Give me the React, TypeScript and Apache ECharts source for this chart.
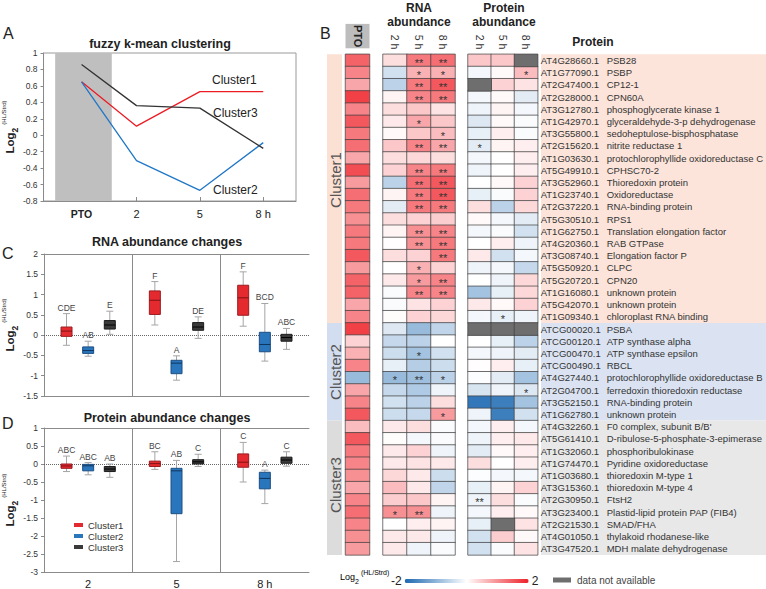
import React, { useEffect, useRef } from 'react';
import * as echarts from 'echarts';

const FONT = '"Liberation Sans", Arial, Helvetica, sans-serif';

// ---------------- Panel A : fuzzy k-mean clustering ----------------
const timeLabels = ['PTO', '2', '5', '8 h'];
const timeX = [-0.6, 2, 5, 8];
const trendCluster1 = [0.65, 0.11, 0.53, 0.53];
const trendCluster2 = [0.65, -0.31, -0.67, -0.09];
const trendCluster3 = [0.86, 0.36, 0.33, -0.16];

// ---------------- Panel C : RNA abundance changes (min, Q1, median, Q3, max) ----------------
const groupLabels = ['2', '5', '8 h'];
const rnaBoxCluster1 = [[-0.25, -0.03, 0.1, 0.2, 0.53], [0.25, 0.51, 0.86, 1.09, 1.32], [0.22, 0.49, 0.92, 1.23, 1.56]];
const rnaBoxCluster2 = [[-0.52, -0.45, -0.38, -0.29, -0.15], [-1.11, -0.95, -0.69, -0.62, -0.51], [-0.64, -0.41, -0.23, 0.07, 0.78]];
const rnaBoxCluster3 = [[0.02, 0.15, 0.25, 0.36, 0.59], [-0.08, 0.12, 0.2, 0.31, 0.45], [-0.35, -0.15, -0.06, 0.02, 0.165]];
const rnaLettersCluster1 = ['CDE', 'F', 'F'];
const rnaLettersCluster2 = ['AB', 'A', 'BCD'];
const rnaLettersCluster3 = ['E', 'DE', 'ABC'];

// ---------------- Panel D : Protein abundance changes ----------------
const protBoxCluster1 = [[-0.21, -0.12, -0.055, 0.0, 0.22], [-0.15, -0.07, 0.01, 0.08, 0.34], [-0.5, -0.09, 0.05, 0.28, 0.6]];
const protBoxCluster2 = [[-0.3, -0.19, -0.05, -0.01, 0.04], [-2.71, -1.38, -0.19, -0.12, 0.1], [-1.1, -0.69, -0.4, -0.23, -0.17]];
const protBoxCluster3 = [[-0.37, -0.21, -0.14, -0.07, 0.0], [-0.07, 0.0, 0.06, 0.12, 0.27], [-0.06, 0.02, 0.11, 0.19, 0.34]];
const protLettersCluster1 = ['ABC', 'BC', 'C'];
const protLettersCluster2 = ['ABC', 'AB', 'A'];
const protLettersCluster3 = ['AB', 'C', 'C'];

// ---------------- Panel B : heatmap ----------------
const clusterNames = ['Cluster1', 'Cluster2', 'Cluster3'];
const clusterCounts = [22, 8, 11];
const proteinIds = [
  'AT4G28660.1', 'AT1G77090.1', 'AT2G47400.1', 'AT2G28000.1', 'AT3G12780.1', 'AT1G42970.1', 'AT3G55800.1',
  'AT2G15620.1', 'AT1G03630.1', 'AT5G49910.1', 'AT3G52960.1', 'AT1G23740.1', 'AT2G37220.1', 'AT5G30510.1',
  'AT1G62750.1', 'AT4G20360.1', 'AT3G08740.1', 'AT5G50920.1', 'AT5G20720.1', 'AT1G16080.1', 'AT5G42070.1',
  'AT1G09340.1', 'ATCG00020.1', 'ATCG00120.1', 'ATCG00470.1', 'ATCG00490.1', 'AT4G27440.1', 'AT2G04700.1',
  'AT3G52150.1', 'AT1G62780.1', 'AT4G32260.1', 'AT5G61410.1', 'AT1G32060.1', 'AT1G74470.1', 'AT1G03680.1',
  'AT3G15360.1', 'AT2G30950.1', 'AT3G23400.1', 'AT2G21530.1', 'AT4G01050.1', 'AT3G47520.1',
];
const proteinNames = [
  'PSB28', 'PSBP', 'CP12-1', 'CPN60A', 'phosphoglycerate kinase 1', 'glyceraldehyde-3-p dehydrogenase',
  'sedoheptulose-bisphosphatase', 'nitrite reductase 1', 'protochlorophyllide oxidoreductase C', 'CPHSC70-2',
  'Thioredoxin protein', 'Oxidoreductase', 'RNA-binding protein', 'RPS1', 'Translation elongation factor',
  'RAB GTPase', 'Elongation factor P', 'CLPC', 'CPN20', 'unknown protein', 'unknown protein',
  'chloroplast RNA binding', 'PSBA', 'ATP synthase alpha', 'ATP synthase epsilon', 'RBCL',
  'protochlorophyllide oxidoreductase B', 'ferredoxin thioredoxin reductase', 'RNA-binding protein',
  'unknown protein', "F0 complex, subunit B/B'", 'D-ribulose-5-phosphate-3-epimerase', 'phosphoribulokinase',
  'Pyridine oxidoreductase', 'thioredoxin M-type 1', 'thioredoxin M-type 4', 'FtsH2',
  'Plastid-lipid protein PAP (FIB4)', 'SMAD/FHA', 'thylakoid rhodanese-like', 'MDH malate dehydrogenase',
];
const ptoValues = [1.4, 1.1, 0.8, 1.7, 1.1, 1.5, 1.2, 1.3, 0.8, 1.6, 0.9, 1.3, 1.2, 1.0, 1.2, 1.2, 1.5, 0.9, 1.4, 1.4, 0.8, 1.1,
  1.7, 0.4, 0.7, 1.1, -0.9, 0.8, 1.1, 1.5,
  0.6, 1.5, 1.2, 1.1, 1.0, 0.8, 1.1, 1.3, 1.1, 1.0, 0.9];
const rna2h = [0.3, -0.4, -0.6, 0.1, 0.3, 0.2, 0.05, 0.5, 0.3, 0.4, -0.6, 0.1, -0.25, 0.3, 0.1, 0.02, 0.3, 0, 0.2, -0.05, -0.05, 0.03,
  -0.3, -0.5, -0.45, -0.2, -0.9, -0.5, -0.4, -0.45,
  0.2, 0.03, 0.2, 0.2, 0.35, 0.6, 0.45, 1.0, 0, 0.2, 0.2];
const rna5h = [1.2, 0.7, 1.2, 1.1, 0.5, 0.8, 0.5, 1.1, 0.35, 1.1, 1.3, 1.2, 1.2, 0.4, 1.0, 1.0, 0.4, 0.7, 0.9, 1.1, 0.25, 0.4,
  -0.9, -0.6, -0.8, -0.65, -0.85, -0.7, -0.6, -0.5,
  0.3, -0.1, 0.4, 0.25, 0.2, 0.2, 0.5, 1.0, 0.15, 0.2, -0.15];
const rna8h = [1.3, 0.7, 1.5, 1.2, 0.25, 0.5, 0.6, 0.8, 0.3, 1.2, 1.5, 1.5, 1.2, 0.45, 1.1, 1.2, 1.2, 0.4, 1.1, 1.1, 0.4, 0.35,
  -0.55, 0, -0.4, -0.45, -0.6, -0.15, 0.3, 0.9,
  -0.05, -0.05, -0.15, 0.2, -0.45, -0.55, 0.1, -0.15, 0.1, -0.15, -0.05];
const prot2h = [0.5, -0.1, null, -0.1, -0.15, -0.3, -0.2, -0.25, -0.1, -0.15, 0, -0.2, 0.3, 0.05, -0.1, 0, 0.2, -0.15, 0, -0.8, 0.2, -0.1,
  null, 0, -0.1, 0.02, -0.03, -0.35, -1.8, -0.15,
  -0.1, -0.15, -0.25, 0.3, -0.03, -0.2, -0.15, -0.1, -0.2, -0.4, -0.4];
const prot5h = [0.5, 0.05, 0.4, 0.05, 0.1, 0.05, 0.15, 0.1, 0, 0, 0.05, -0.05, -0.6, -0.1, -0.05, 0.15, -0.4, -0.1, -0.15, -0.2, 0.05, -0.2,
  null, -0.2, -0.15, 0.15, -0.25, -0.15, -1.7, -1.7,
  0.15, 0.15, 0.05, 0, -0.1, 0.1, 0.3, 0.15, null, 0.45, -0.05];
const prot8h = [null, 0.6, 0.25, -0.25, -0.1, -0.05, -0.05, 0.15, 0.15, 0.15, 0.4, 0.4, 0.35, -0.25, -0.4, -0.15, -0.1, -0.5, 0.35, 0.35, 0.4, -0.15,
  null, -0.6, -0.25, -0.2, -0.8, -0.3, -0.8, -0.4,
  -0.1, 0.2, 0.15, 0.15, -0.1, 0.4, -0.05, 0.05, 0.25, 0.05, 0.25];
const rnaSig2h = ['', '', '', '', '', '', '', '', '', '', '', '', '', '', '', '', '', '', '', '', '', '',
  '', '', '', '', '*', '', '', '',
  '', '', '', '', '', '', '', '*', '', '', ''];
const rnaSig5h = ['**', '*', '**', '**', '', '*', '', '**', '', '**', '**', '**', '**', '', '**', '**', '', '*', '*', '**', '', '',
  '', '', '*', '', '**', '', '', '',
  '', '', '', '', '', '', '', '**', '', '', ''];
const rnaSig8h = ['**', '*', '**', '**', '', '', '*', '**', '', '**', '**', '**', '**', '', '**', '**', '**', '', '**', '**', '', '',
  '', '', '', '', '*', '', '', '*',
  '', '', '', '', '', '', '', '', '', '', ''];
const protSig2h = ['', '', '', '', '', '', '', '*', '', '', '', '', '', '', '', '', '', '', '', '', '', '',
  '', '', '', '', '', '', '', '',
  '', '', '', '', '', '', '**', '', '', '', ''];
const protSig5h = ['', '', '', '', '', '', '', '', '', '', '', '', '', '', '', '', '', '', '', '', '', '*',
  '', '', '', '', '', '', '', '',
  '', '', '', '', '', '', '', '', '', '', ''];
const protSig8h = ['', '*', '', '', '', '', '', '', '', '', '', '', '', '', '', '', '', '', '', '', '', '',
  '', '', '', '', '', '*', '', '',
  '', '', '', '', '', '', '', '', '', '', ''];
const timeColumns = ['2 h', '5 h', '8 h'];
const colorScale = { min: -2, max: 2 };

// ---------------- styles ----------------
const lineColors = ['#ed1c24', '#1f77c7', '#333333'];
const boxColors = [
  { fill: '#e52a2f', stroke: '#9c1b1f', median: '#7e1215' },
  { fill: '#2a76bd', stroke: '#1b4e82', median: '#0f355c' },
  { fill: '#3a3a3a', stroke: '#1c1c1c', median: '#000000' },
];
const boxOffsets = [-0.245, 0, 0.245];
const bandColors = ['#fce4da', '#dbe3f2', '#e8e8e8'];
const stripColors = ['#fbe0d4', '#d3ddf0', '#dcdcdc'];
const heatTop = 54.3;
const rowH = 12.21;

const axisLabelStyle = { fontSize: 8.5, color: '#333', fontFamily: FONT };
const greyAxisLine = { show: true, onZero: false, lineStyle: { color: '#8a8a8a', width: 1 } };
const yNameRich = {
  a: { fontSize: 11.5, fontWeight: 'bold' as const, color: '#222', fontFamily: FONT, lineHeight: 18, verticalAlign: 'middle' as const },
  s: { fontSize: 8.5, fontWeight: 'bold' as const, color: '#222', fontFamily: FONT, lineHeight: 9, verticalAlign: 'bottom' as const },
  p: { fontSize: 6, color: '#222', fontFamily: FONT, lineHeight: 8, verticalAlign: 'top' as const, padding: [0, 0, 0, 3] },
};
const yName = '{a|Log}{s|2}{p|(HL/Strd)}';

function makeBoxSeries(name: string, boxes: number[][], letters: string[], ci: number, xAxisIndex: number, yAxisIndex: number, withZero: boolean) {
  const col = boxColors[ci];
  const off = boxOffsets[ci];
  const s: any = {
    type: 'custom',
    name,
    xAxisIndex,
    yAxisIndex,
    itemStyle: { color: col.fill },
    encode: { x: 0, y: [1, 2, 3, 4, 5] },
    data: boxes.map((b, i) => [i, ...b]),
    z: 3,
    renderItem: (params: any, api: any) => {
      const gi = api.value(0);
      const x = gi + 0.5 + off;
      const pMin = api.coord([x, api.value(1)]);
      const pQ1 = api.coord([x, api.value(2)]);
      const pMed = api.coord([x, api.value(3)]);
      const pQ3 = api.coord([x, api.value(4)]);
      const pMax = api.coord([x, api.value(5)]);
      const cx = pMin[0];
      const hw = 5.5;
      const cw = 3.5;
      const ws = { stroke: '#a5a5a5', lineWidth: 1 };
      return {
        type: 'group',
        children: [
          { type: 'line', shape: { x1: cx, y1: pMax[1], x2: cx, y2: pQ3[1] }, style: ws },
          { type: 'line', shape: { x1: cx, y1: pQ1[1], x2: cx, y2: pMin[1] }, style: ws },
          { type: 'line', shape: { x1: cx - cw, y1: pMax[1], x2: cx + cw, y2: pMax[1] }, style: ws },
          { type: 'line', shape: { x1: cx - cw, y1: pMin[1], x2: cx + cw, y2: pMin[1] }, style: ws },
          { type: 'rect', shape: { x: cx - hw, y: pQ3[1], width: hw * 2, height: Math.max(1, pQ1[1] - pQ3[1]) }, style: { fill: col.fill, stroke: col.stroke, lineWidth: 1 } },
          { type: 'line', shape: { x1: cx - hw, y1: pMed[1], x2: cx + hw, y2: pMed[1] }, style: { stroke: col.median, lineWidth: 1 } },
          {
            type: 'text', x: cx, y: pMax[1] - 1.5,
            style: { text: letters[gi], fontSize: 8.5, fontFamily: FONT, fill: '#444', align: 'center', textAlign: 'center', verticalAlign: 'bottom', textVerticalAlign: 'bottom' },
          },
        ],
      };
    },
  };
  if (withZero) {
    s.markLine = {
      silent: true, z: 1, symbol: ['none', 'none'], label: { show: false },
      lineStyle: { type: 'dotted', color: '#666', width: 1 },
      data: [{ yAxis: 0 }],
    };
  }
  return s;
}

function txt(text: string, x: number, y: number, size: number, opts: any = {}) {
  return {
    type: 'text', x, y, z: 10, rotation: opts.rotation || 0,
    style: {
      text, fontSize: size, fontFamily: FONT, fontWeight: opts.bold ? 'bold' : 'normal', fill: opts.color || '#222',
      align: opts.align || 'left', textAlign: opts.align || 'left', verticalAlign: 'middle', textVerticalAlign: 'middle',
      rich: opts.rich,
    },
  };
}

function buildOption() {
  const sigCols = [[rnaSig2h, rnaSig5h, rnaSig8h], [protSig2h, protSig5h, protSig8h]];
  const rnaCols = [rna2h, rna5h, rna8h];
  const protCols = [prot2h, prot5h, prot8h];
  const rnaData: any[] = [];
  const protData: any[] = [];
  const naData: any[] = [];
  rnaCols.forEach((c, j) => c.forEach((v, i) => rnaData.push([j, i, v])));
  protCols.forEach((c, j) => c.forEach((v, i) => {
    if (v === null) naData.push([j, i, 0]);
    else protData.push([j, i, v]);
  }));

  const heatItem = { borderColor: '#3d3d3d', borderWidth: 0.7 };
  const heatLabel = (k: number) => ({
    show: true, fontSize: 11, color: '#333', fontFamily: FONT, offset: [0, 2.5],
    formatter: (p: any) => sigCols[k][p.value[0]][p.value[1]] || '',
  });

  // background bands and strip labels
  const bandEls: any[] = [];
  let start = 0;
  const stripLabelY = [180, 372, 485];
  clusterCounts.forEach((n, c) => {
    const y = heatTop + start * rowH;
    const h = n * rowH;
    bandEls.push({ type: 'rect', z: -5, shape: { x: 327, y, width: 15, height: h }, style: { fill: stripColors[c] } });
    bandEls.push({ type: 'rect', z: -5, shape: { x: 541, y, width: 225, height: h }, style: { fill: bandColors[c] } });
    bandEls.push(txt(clusterNames[c], 335, stripLabelY[c], 15, { rotation: Math.PI / 2, align: 'center', color: '#555' }));
    start += n;
  });

  const heatY = (gi: number, show = false) => ({
    gridIndex: gi, type: 'category', data: proteinIds, inverse: true, show,
  });

  return {
    animation: false,
    backgroundColor: '#ffffff',
    textStyle: { fontFamily: FONT },
    grid: [
      { left: 41, top: 53, width: 255, height: 148, show: true, borderColor: '#9a9a9a', borderWidth: 1, backgroundColor: 'transparent' },
      { left: 44, top: 254, width: 265, height: 142 },
      { left: 44, top: 428, width: 265, height: 145 },
      { left: 345.5, top: heatTop, width: 24, height: rowH * proteinIds.length },
      { left: 383, top: heatTop, width: 72, height: rowH * proteinIds.length },
      { left: 468, top: heatTop, width: 72, height: rowH * proteinIds.length },
    ],
    xAxis: [
      {
        gridIndex: 0, type: 'value', min: -2.4, max: 9.55,
        axisLine: greyAxisLine, splitLine: { show: false },
        axisTick: { show: true, customValues: timeX, inside: true, length: 4, lineStyle: { color: '#8a8a8a' } },
        axisLabel: {
          customValues: timeX, margin: 7, fontSize: 11, color: '#222', fontFamily: FONT,
          formatter: (v: number) => {
            const i = timeX.findIndex((t) => Math.abs(t - v) < 1e-6);
            if (i < 0) return '';
            return i === 0 ? '{b|' + timeLabels[i] + '}' : timeLabels[i];
          },
          rich: { b: { fontWeight: 'bold', fontSize: 10.5, color: '#222', fontFamily: FONT } },
        },
      },
      {
        gridIndex: 1, type: 'value', min: 0, max: 3, interval: 1,
        axisLine: greyAxisLine, axisTick: { show: false }, axisLabel: { show: false },
        splitLine: { show: true, showMinLine: false, showMaxLine: false, lineStyle: { color: '#8a8a8a', width: 1 } },
      },
      { gridIndex: 1, type: 'value', position: 'top', min: 0, max: 3, axisLine: greyAxisLine, axisTick: { show: false }, axisLabel: { show: false }, splitLine: { show: false } },
      {
        gridIndex: 2, type: 'value', min: 0, max: 3, interval: 1,
        axisLine: greyAxisLine, axisTick: { show: false },
        axisLabel: {
          customValues: [0.5, 1.5, 2.5], margin: 6, fontSize: 11, color: '#222', fontFamily: FONT,
          formatter: (v: number) => groupLabels[Math.round(v - 0.5)] ?? '',
        },
        splitLine: { show: true, showMinLine: false, showMaxLine: false, lineStyle: { color: '#8a8a8a', width: 1 } },
      },
      { gridIndex: 2, type: 'value', position: 'top', min: 0, max: 3, axisLine: greyAxisLine, axisTick: { show: false }, axisLabel: { show: false }, splitLine: { show: false } },
      {
        gridIndex: 3, type: 'category', data: ['PTO'], position: 'top',
        axisLine: { show: false }, axisTick: { show: false },
        axisLabel: { rotate: 90, fontWeight: 'bold', fontSize: 11, color: '#222', fontFamily: FONT, backgroundColor: '#bdbdbd', padding: [6, 1, 6, 1], lineHeight: 12, margin: 6 },
      },
      {
        gridIndex: 4, type: 'category', data: timeColumns, position: 'top',
        axisLine: { show: false }, axisTick: { show: false },
        axisLabel: { rotate: 90, fontSize: 10.5, color: '#333', fontFamily: FONT, margin: 5 },
      },
      {
        gridIndex: 5, type: 'category', data: timeColumns, position: 'top',
        axisLine: { show: false }, axisTick: { show: false },
        axisLabel: { rotate: 90, fontSize: 10.5, color: '#333', fontFamily: FONT, margin: 5 },
      },
    ],
    yAxis: [
      {
        gridIndex: 0, type: 'value', min: -0.8, max: 1, interval: 0.2,
        axisLine: greyAxisLine, splitLine: { show: false },
        axisTick: { show: true, length: 3, lineStyle: { color: '#8a8a8a' } },
        axisLabel: { ...axisLabelStyle, margin: 6 },
        name: yName, nameLocation: 'middle', nameRotate: 90, nameGap: 21, nameTextStyle: { rich: yNameRich },
      },
      {
        gridIndex: 1, type: 'value', min: -1.5, max: 2, interval: 0.5,
        axisLine: greyAxisLine, splitLine: { show: false },
        axisTick: { show: true, length: 3, lineStyle: { color: '#8a8a8a' } },
        axisLabel: { ...axisLabelStyle, margin: 6 },
        name: yName, nameLocation: 'middle', nameRotate: 90, nameGap: 23, nameTextStyle: { rich: yNameRich },
      },
      {
        gridIndex: 2, type: 'value', min: -3, max: 1, interval: 0.5,
        axisLine: greyAxisLine, splitLine: { show: false },
        axisTick: { show: true, length: 3, lineStyle: { color: '#8a8a8a' } },
        axisLabel: { ...axisLabelStyle, margin: 6 },
        name: yName, nameLocation: 'middle', nameRotate: 90, nameGap: 23, nameTextStyle: { rich: yNameRich },
      },
      heatY(3),
      heatY(4),
      {
        gridIndex: 5, type: 'category', data: proteinIds, inverse: true, position: 'right',
        axisLine: { show: false }, axisTick: { show: false },
        axisLabel: {
          interval: 0, margin: 3, fontSize: 9.5, color: '#333', fontFamily: FONT,
          formatter: (v: string, idx: number) => '{id|' + v + '}{nm|' + proteinNames[idx] + '}',
          rich: {
            id: { width: 66, fontSize: 9.5, color: '#333', fontFamily: FONT },
            nm: { fontSize: 9.5, color: '#333', fontFamily: FONT },
          },
        },
      },
    ],
    visualMap: [
      {
        type: 'continuous', min: colorScale.min, max: colorScale.max, dimension: 2, seriesIndex: [9, 10, 11],
        orient: 'horizontal', left: 376, top: 560, itemWidth: 4, itemHeight: 124,
        text: ['2', '-2'], textGap: 3, calculable: false, hoverLink: false,
        textStyle: { fontSize: 12, color: '#222', fontFamily: FONT },
        inRange: { color: ['#1b68b1', '#ffffff', '#ee2027'] },
      },
      {
        type: 'continuous', show: false, min: 0, max: 1, dimension: 2, seriesIndex: [12],
        inRange: { color: ['#6e6e6e', '#6e6e6e'] },
      },
    ],
    legend: {
      data: clusterNames, orient: 'vertical', left: 69, top: 515, itemWidth: 9, itemHeight: 4, itemGap: 1,
      icon: 'rect', selectedMode: false,
      textStyle: { fontSize: 9.5, color: '#333', fontFamily: FONT },
    },
    series: [
      {
        type: 'line', name: 'trend1', xAxisIndex: 0, yAxisIndex: 0, symbol: 'none',
        data: timeX.map((x, i) => [x, trendCluster1[i]]),
        lineStyle: { color: lineColors[0], width: 1.3 }, itemStyle: { color: lineColors[0] },
        markArea: { silent: true, itemStyle: { color: '#bfbfbf' }, data: [[{ xAxis: timeX[0] - 1.25 }, { xAxis: timeX[0] + 1.43 }]] },
      },
      {
        type: 'line', name: 'trend2', xAxisIndex: 0, yAxisIndex: 0, symbol: 'none',
        data: timeX.map((x, i) => [x, trendCluster2[i]]),
        lineStyle: { color: lineColors[1], width: 1.3 }, itemStyle: { color: lineColors[1] },
      },
      {
        type: 'line', name: 'trend3', xAxisIndex: 0, yAxisIndex: 0, symbol: 'none',
        data: timeX.map((x, i) => [x, trendCluster3[i]]),
        lineStyle: { color: lineColors[2], width: 1.3 }, itemStyle: { color: lineColors[2] },
      },
      makeBoxSeries('Cluster1', rnaBoxCluster1, rnaLettersCluster1, 0, 1, 1, true),
      makeBoxSeries('Cluster2', rnaBoxCluster2, rnaLettersCluster2, 1, 1, 1, false),
      makeBoxSeries('Cluster3', rnaBoxCluster3, rnaLettersCluster3, 2, 1, 1, false),
      makeBoxSeries('Cluster1', protBoxCluster1, protLettersCluster1, 0, 3, 2, true),
      makeBoxSeries('Cluster2', protBoxCluster2, protLettersCluster2, 1, 3, 2, false),
      makeBoxSeries('Cluster3', protBoxCluster3, protLettersCluster3, 2, 3, 2, false),
      {
        type: 'heatmap', name: 'PTO', xAxisIndex: 5, yAxisIndex: 3,
        data: ptoValues.map((v, i) => [0, i, v]), itemStyle: heatItem, emphasis: { disabled: true },
      },
      {
        type: 'heatmap', name: 'RNA', xAxisIndex: 6, yAxisIndex: 4,
        data: rnaData, itemStyle: heatItem, label: heatLabel(0), emphasis: { disabled: true },
      },
      {
        type: 'heatmap', name: 'Protein', xAxisIndex: 7, yAxisIndex: 5,
        data: protData, itemStyle: heatItem, label: heatLabel(1), emphasis: { disabled: true },
      },
      {
        type: 'heatmap', name: 'NA', xAxisIndex: 7, yAxisIndex: 5,
        data: naData, itemStyle: heatItem, emphasis: { disabled: true },
      },
    ],
    graphic: {
      elements: [
        ...bandEls,
        txt('A', 3, 33.5, 16),
        txt('B', 320, 33, 16),
        txt('C', 2, 253.5, 16),
        txt('D', 2, 423.5, 16),
        txt('fuzzy k-mean clustering', 160, 44, 12.5, { bold: true, align: 'center' }),
        txt('RNA abundance changes', 167, 242, 12.5, { bold: true, align: 'center' }),
        txt('Protein abundance changes', 167, 418, 12.5, { bold: true, align: 'center' }),
        txt('Cluster1', 212, 80, 12),
        txt('Cluster3', 213, 113, 12),
        txt('Cluster2', 213, 190, 12),
        txt('RNA', 419, 8, 12, { bold: true, align: 'center' }),
        txt('abundance', 419, 22, 12, { bold: true, align: 'center' }),
        txt('Protein', 504, 8, 12, { bold: true, align: 'center' }),
        txt('abundance', 504, 22, 12, { bold: true, align: 'center' }),
        txt('Protein', 593, 42, 12, { bold: true, align: 'center' }),
        { type: 'rect', z: 10, shape: { x: 553, y: 577.5, width: 18, height: 5 }, style: { fill: '#6e6e6e' } },
        txt('data not available', 577, 580, 10, { color: '#444' }),
        {
          type: 'text', x: 340, y: 577, z: 10,
          style: {
            text: '{a|Log}{s|2}{p|(HL/Strd)}', align: 'left', textAlign: 'left', verticalAlign: 'middle', textVerticalAlign: 'middle',
            rich: {
              a: { fontSize: 9, color: '#333', fontFamily: FONT, lineHeight: 16, verticalAlign: 'middle' },
              s: { fontSize: 7, color: '#333', fontFamily: FONT, lineHeight: 8, verticalAlign: 'bottom' },
              p: { fontSize: 7, color: '#333', fontFamily: FONT, lineHeight: 7, verticalAlign: 'top', padding: [0, 0, 0, 2] },
            },
          },
        },
      ],
    },
  };
}

export default function App() {
  const ref = useRef<HTMLDivElement>(null);
  useEffect(() => {
    if (!ref.current) return;
    const chart = echarts.init(ref.current, null, { renderer: 'svg' });
    chart.setOption(buildOption() as any);
    return () => chart.dispose();
  }, []);
  return <div ref={ref} style={{ position: 'fixed', left: 0, top: 0, width: 766, height: 589, background: '#fff' }} />;
}
